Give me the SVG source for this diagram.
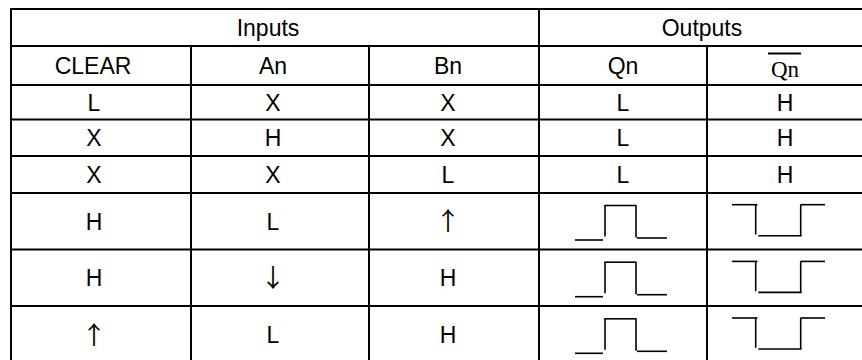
<svg xmlns="http://www.w3.org/2000/svg" width="862" height="360" viewBox="0 0 862 360">
<defs>
<style>
.grid line{stroke:#000;stroke-width:2;fill:none}
.t{font-family:"Liberation Sans",Arial,sans-serif;font-size:23px;fill:#000;text-anchor:middle}
.s{font-family:"Liberation Serif","Times New Roman",serif;font-size:23px;fill:#000;text-anchor:middle}
.a{font-family:"Noto Sans CJK JP","DejaVu Sans",sans-serif;font-size:25px;fill:#000;text-anchor:middle}
</style>
<g id="qwave" stroke="#000" stroke-width="1.6" fill="none">
<line x1="575" y1="240" x2="603" y2="240"/>
<line x1="605" y1="236.5" x2="605" y2="205"/>
<line x1="604.5" y1="205.5" x2="636" y2="205.5"/>
<line x1="636" y1="205" x2="636" y2="237.5"/>
<line x1="637" y1="238" x2="667" y2="238"/>
</g>
<g id="qbwave" stroke="#000" stroke-width="1.6" fill="none">
<line x1="732" y1="204.7" x2="757.5" y2="204.7"/>
<line x1="755.7" y1="204.5" x2="755.7" y2="234.5"/>
<line x1="758.3" y1="235.7" x2="801.7" y2="235.7"/>
<line x1="800.7" y1="235.5" x2="800.7" y2="204.7"/>
<line x1="800.5" y1="204.7" x2="825" y2="204.7"/>
</g>
</defs>
<rect width="862" height="360" fill="#fff"/>
<g id="table-grid" class="grid">
<line x1="11" y1="9" x2="870" y2="9"/>
<line x1="11" y1="46" x2="870" y2="46"/>
<line x1="11" y1="85" x2="870" y2="85"/>
<line x1="11" y1="119.5" x2="870" y2="119.5"/>
<line x1="11" y1="156" x2="870" y2="156"/>
<line x1="11" y1="193" x2="870" y2="193"/>
<line x1="11" y1="249.5" x2="870" y2="249.5"/>
<line x1="11" y1="306" x2="870" y2="306"/>
<line x1="11" y1="8" x2="11" y2="370"/>
<line x1="191" y1="46" x2="191" y2="370"/>
<line x1="369" y1="46" x2="369" y2="370"/>
<line x1="539" y1="8" x2="539" y2="370"/>
<line x1="707" y1="46" x2="707" y2="370"/>
</g>
<g id="header">
<text class="t" x="268" y="36">Inputs</text>
<text class="t" x="702" y="36">Outputs</text>
<text class="t" x="93" y="74">CLEAR</text>
<text class="t" x="273" y="74">An</text>
<text class="t" x="448" y="74">Bn</text>
<text class="t" x="623" y="74">Qn</text>
<text class="s" x="785" y="77">Qn</text>
<line x1="768" y1="53.5" x2="801" y2="53.5" stroke="#000" stroke-width="1.8"/>
</g>
<g id="row1">
<text class="t" x="94" y="110.5">L</text>
<text class="t" x="273" y="110.5">X</text>
<text class="t" x="448" y="110.5">X</text>
<text class="t" x="623" y="110.5">L</text>
<text class="t" x="785" y="110.5">H</text>
</g>
<g id="row2">
<text class="t" x="94" y="146">X</text>
<text class="t" x="273" y="146">H</text>
<text class="t" x="448" y="146">X</text>
<text class="t" x="623" y="146">L</text>
<text class="t" x="785" y="146">H</text>
</g>
<g id="row3">
<text class="t" x="94" y="183">X</text>
<text class="t" x="273" y="183">X</text>
<text class="t" x="448" y="183">L</text>
<text class="t" x="623" y="183">L</text>
<text class="t" x="785" y="183">H</text>
</g>
<g id="row4">
<text class="t" x="94" y="229.5">H</text>
<text class="t" x="273" y="229.5">L</text>
<text class="a" x="448" y="229.5">↑</text>
<use href="#qwave"/>
<use href="#qbwave"/>
</g>
<g id="row5">
<text class="t" x="94" y="286">H</text>
<text class="a" x="273" y="287">↓</text>
<text class="t" x="448" y="286">H</text>
<use href="#qwave" transform="translate(0,56.7)"/>
<use href="#qbwave" transform="translate(0,56.7)"/>
</g>
<g id="row6">
<text class="a" x="94" y="343.5">↑</text>
<text class="t" x="273" y="342.5">L</text>
<text class="t" x="448" y="342.5">H</text>
<use href="#qwave" transform="translate(0,113.3)"/>
<use href="#qbwave" transform="translate(0,113.3)"/>
</g>
</svg>
